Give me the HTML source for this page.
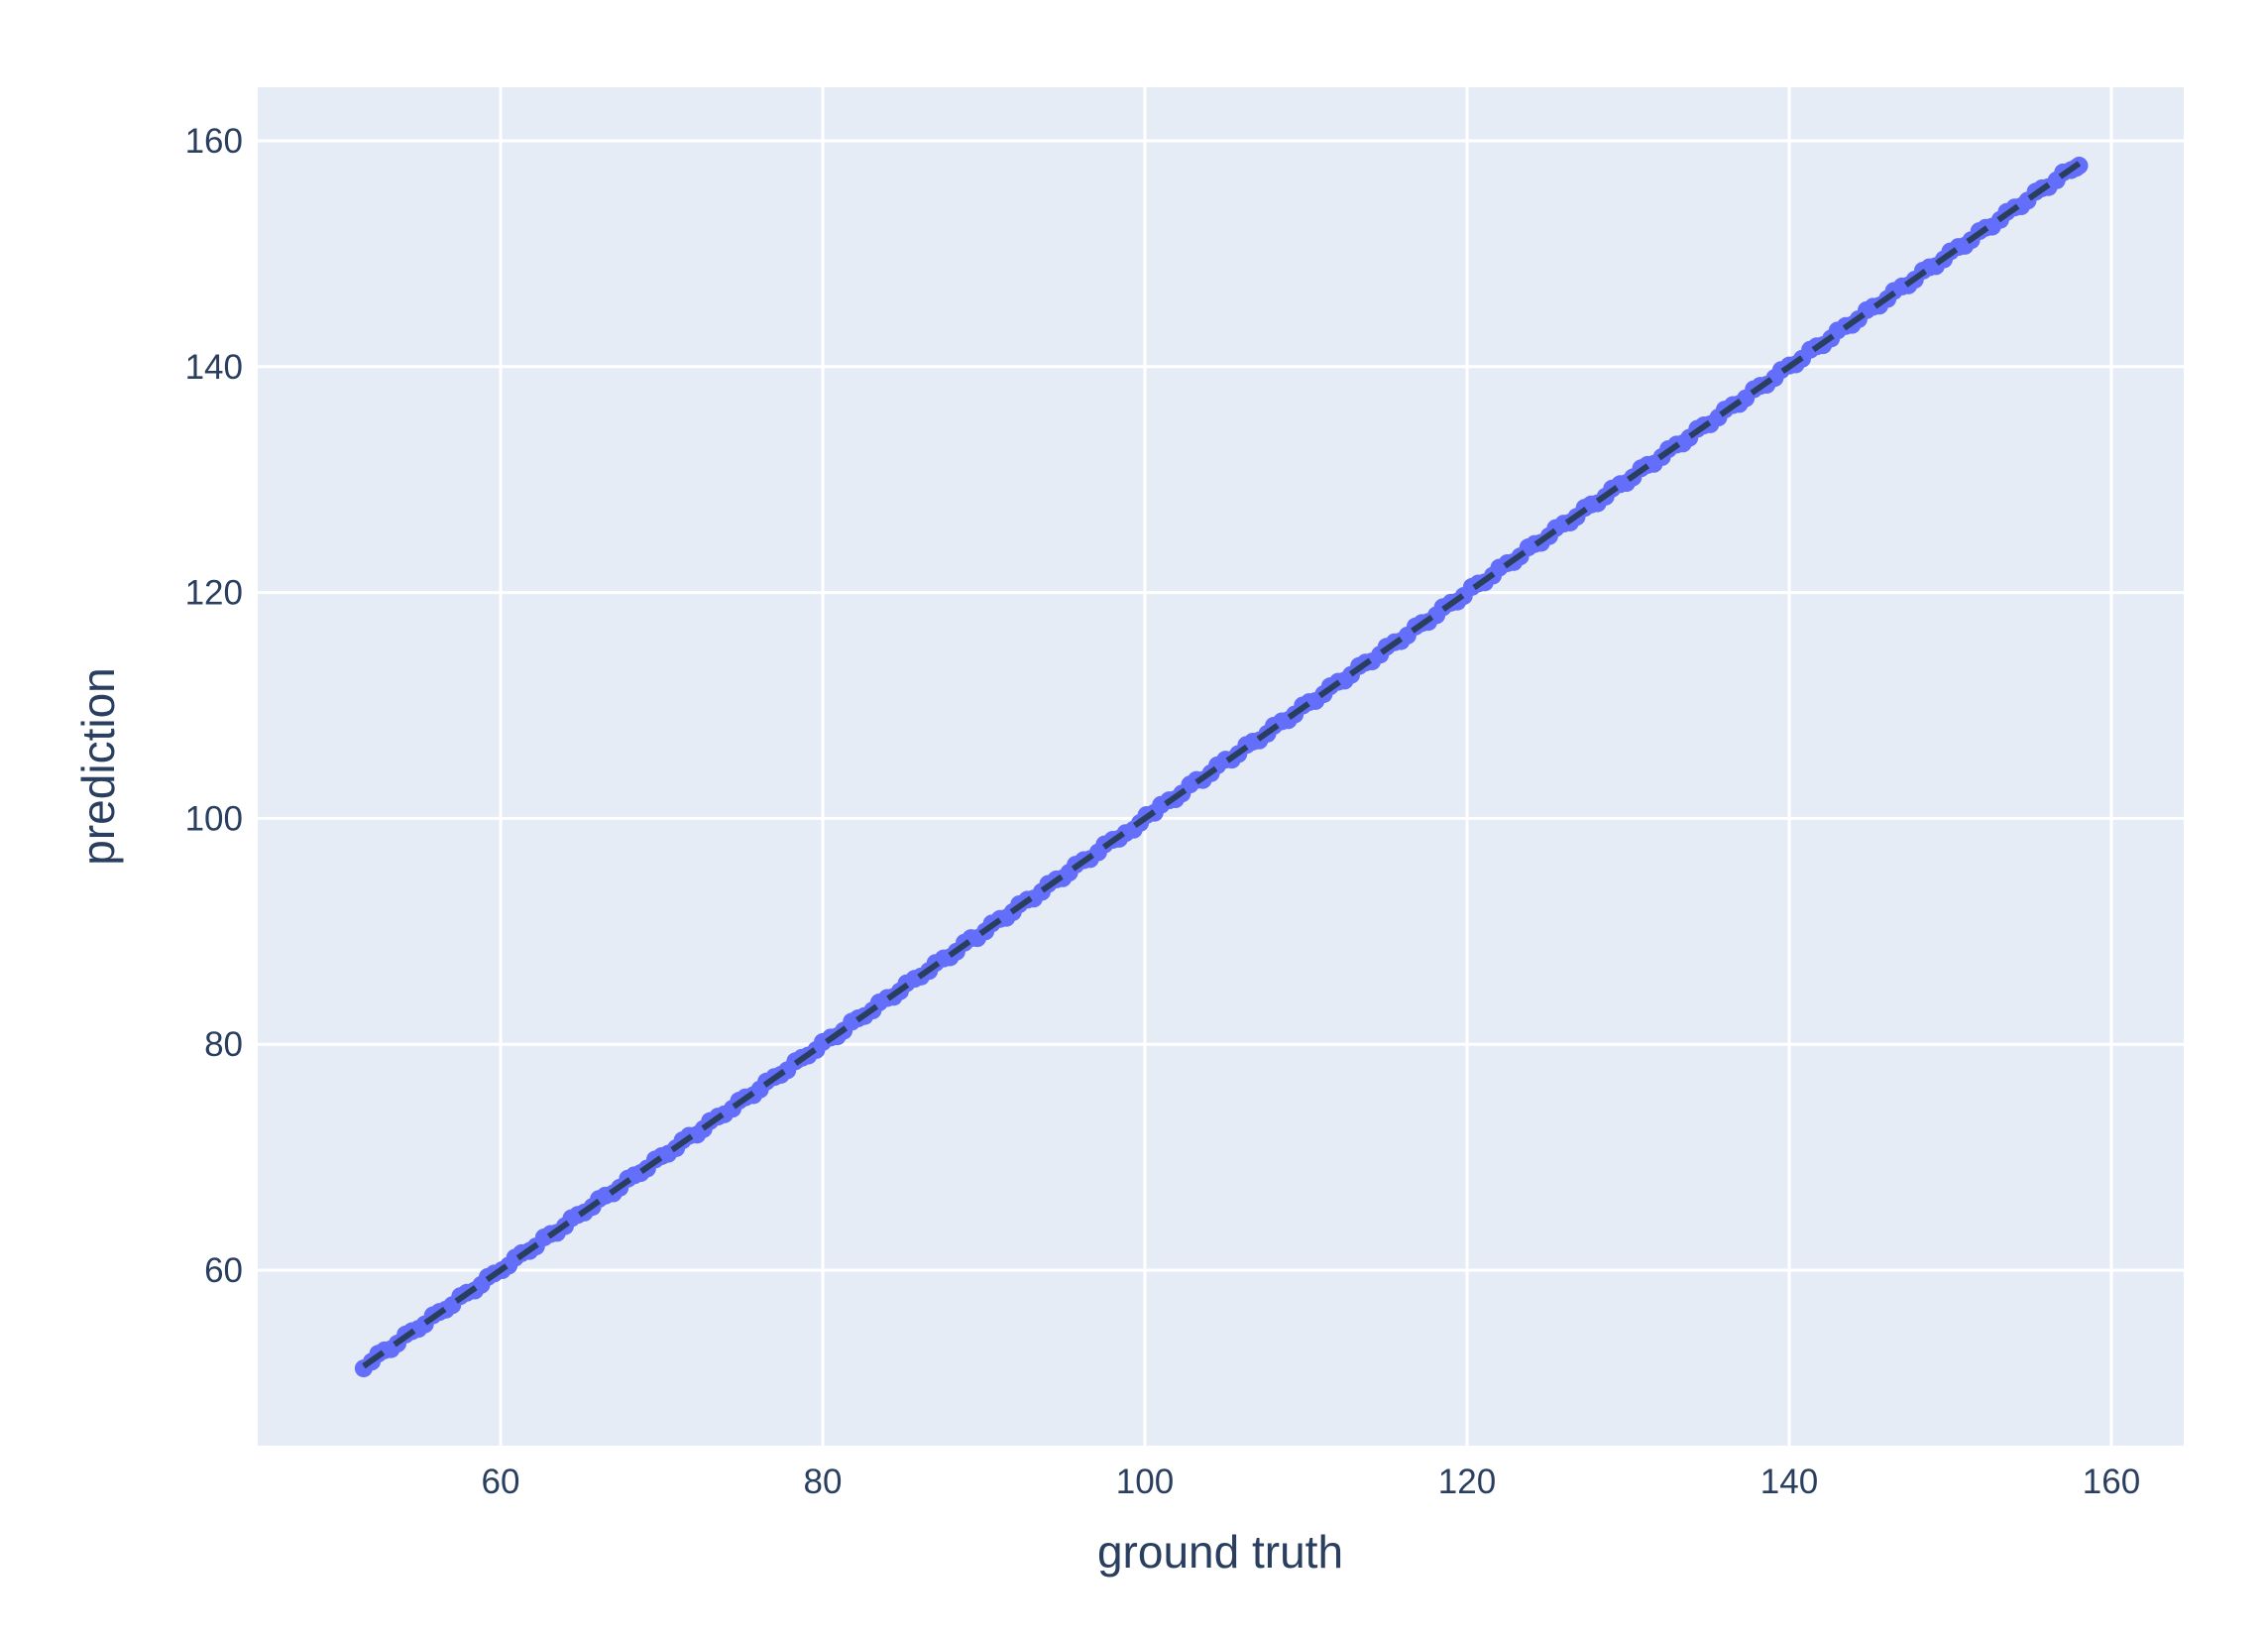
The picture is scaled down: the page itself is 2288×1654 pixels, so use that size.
<!DOCTYPE html>
<html><head><meta charset="utf-8"><style>
html,body{margin:0;padding:0;background:#fff;}
svg{display:block;font-family:"Liberation Sans",sans-serif;}
</style></head><body>
<svg id="chart" width="2288" height="1654">
<rect x="260" y="88" width="1943" height="1370" fill="#E5ECF6"/>
<g id="grid"></g>
<g id="pts"></g>
<g id="ref"></g>
<g id="ticks"></g>
<text x="1231" y="1581" font-size="46" fill="#2a3f5f" text-anchor="middle">ground truth</text>
<text transform="translate(115,773) rotate(-90)" font-size="46" fill="#2a3f5f" text-anchor="middle">prediction</text>
</svg>
<script>
const xTicks=[60,80,100,120,140,160];
const yTicks=[60,80,100,120,140,160];
const truth=[51.5,52.0,52.8,53.6,54.5,55.3,56.2,57.0,57.9,58.8,59.6,60.5,61.3,62.2,63.1,64.0,64.8,65.7,66.5,67.4,68.3,69.1,70.0,70.9,71.7,72.6,73.5,74.4,75.2,76.1,77.0,77.8,78.7,79.6,80.5,81.3,82.2,83.1,84.0,84.8,85.7,86.6,87.5,88.3,89.2,90.1,91.0,91.8,92.7,93.6,94.5,95.3,96.2,97.1,98.0,98.8,99.7,100.6,101.5,102.3,103.2,104.1,105.0,105.8,106.7,107.6,108.5,109.3,110.2,111.1,112.0,112.8,113.7,114.6,115.5,116.3,117.2,118.1,119.0,119.8,120.7,121.6,122.5,123.3,124.2,125.1,126.0,126.8,127.7,128.6,129.5,130.3,131.2,132.1,133.0,133.8,134.7,135.6,136.5,137.3,138.2,139.1,140.0,140.8,141.7,142.6,143.5,144.3,145.2,146.1,147.0,147.8,148.7,149.6,150.5,151.3,152.2,153.1,154.0,154.8,155.7,156.6,157.5,158.0];
const pred=[51.3,51.9,52.9,53.5,54.6,55.2,56.3,56.9,58.0,58.7,59.7,60.4,61.5,62.1,63.2,63.9,64.9,65.6,66.6,67.3,68.4,69.0,70.1,70.8,71.9,72.5,73.6,74.3,75.3,76.0,77.1,77.7,78.8,79.5,80.6,81.2,82.3,83.0,84.1,84.7,85.8,86.5,87.6,88.2,89.4,90.0,91.1,91.7,92.8,93.5,94.6,95.2,96.3,97.0,98.1,98.7,99.6,100.5,101.6,102.2,103.4,104.0,105.2,105.7,106.8,107.5,108.6,109.2,110.3,111.0,112.1,112.7,113.8,114.5,115.6,116.2,117.3,118.0,119.1,119.7,120.8,121.5,122.6,123.2,124.3,125.0,126.1,126.7,127.8,128.5,129.6,130.2,131.3,132.0,133.1,133.7,134.8,135.5,136.6,137.2,138.3,139.0,140.1,140.7,141.8,142.5,143.6,144.2,145.3,146.0,147.1,147.7,148.8,149.5,150.6,151.2,152.3,153.0,154.1,154.7,155.8,156.5,157.4,157.8];
const truthB=[52.4,53.2,54.1,54.9,55.8,56.6,57.5,58.4,59.2,60.1,60.9,61.8,62.7,63.5,64.4,65.2,66.1,67.0,67.9,68.7,69.6,70.4,71.3,72.2,73.0,73.9,74.8,75.7,76.5,77.4,78.3,79.1,80.0,80.9,81.8,82.6,83.5,84.4,85.2,86.1,87.0,87.9,88.8,89.6,90.5,91.4,92.2,93.1,94.0,94.9,95.7,96.6,97.5,98.4,99.3,100.1,101.0,101.9,102.8,103.6,104.5,105.4,106.3,107.1,108.0,108.9,109.8,110.6,111.5,112.4,113.3,114.1,115.0,115.9,116.8,117.6,118.5,119.4,120.3,121.1,122.0,122.9,123.8,124.6,125.5,126.4,127.3,128.1,129.0,129.9,130.8,131.6,132.5,133.4,134.3,135.1,136.0,136.9,137.8,138.6,139.5,140.4,141.3,142.1,143.0,143.9,144.8,145.6,146.5,147.4,148.3,149.1,150.0,150.9,151.8,152.6,153.5,154.4,155.3,156.1,157.0,157.8];
const predB=[52.6,53.0,54.3,54.8,56.0,56.5,57.7,58.2,59.4,60.0,61.1,61.7,62.9,63.3,64.6,65.1,66.3,66.8,68.1,68.6,69.8,70.3,71.5,72.0,73.2,73.8,75.0,75.5,76.7,77.3,78.5,79.0,80.2,80.7,82.0,82.5,83.7,84.2,85.4,86.0,87.2,87.7,89.0,89.4,90.7,91.2,92.4,92.9,94.2,94.7,95.9,96.4,97.7,98.2,99.0,100.3,101.2,101.7,103.0,103.4,104.7,105.2,106.5,106.9,108.2,108.7,110.0,110.4,111.7,112.2,113.5,113.9,115.2,115.7,117.0,117.4,118.7,119.2,120.5,120.9,122.2,122.7,124.0,124.4,125.7,126.2,127.5,127.9,129.2,129.7,131.0,131.4,132.7,133.2,134.5,134.9,136.2,136.7,138.0,138.4,139.7,140.2,141.5,141.9,143.2,143.7,145.0,145.4,146.7,147.2,148.5,148.9,150.2,150.7,152.0,152.4,153.7,154.2,155.5,155.9,157.2,157.6];
const refLine=[51.5,158];
const NS="http://www.w3.org/2000/svg";
function xs(v){return 505+(v-60)*16.25;}
function ys(v){return 1281-(v-60)*11.39;}
function mk(t,a,p){const e=document.createElementNS(NS,t);for(const k in a)e.setAttribute(k,a[k]);p.appendChild(e);return e;}
const grid=document.getElementById('grid'),ticks=document.getElementById('ticks'),pts=document.getElementById('pts'),ref=document.getElementById('ref');
xTicks.forEach(v=>{
 const l=mk('line',{x1:xs(v),x2:xs(v),y1:88,y2:1458,stroke:'#fff','stroke-width':3},grid);
 
 
 const t=mk('text',{x:xs(v),y:1506,'font-size':35,fill:'#2a3f5f','text-anchor':'middle'},ticks);
 t.textContent=v;
 
 
});
yTicks.forEach(v=>{
 const l=mk('line',{x1:260,x2:2203,y1:ys(v),y2:ys(v),stroke:'#fff','stroke-width':3},grid);
 
 
 const t=mk('text',{x:245,y:ys(v)+12,'font-size':35,fill:'#2a3f5f','text-anchor':'end'},ticks);
 t.textContent=v;
 
 
});
truth.forEach((v,i)=>{
 const c=mk('circle',{cx:xs(v),cy:ys(pred[i]),r:9,fill:'#636efa'},pts);
 
 
});
truthB.forEach((v,i)=>{
 const c=mk('circle',{cx:xs(v),cy:ys(predB[i]),r:9,fill:'#636efa'},pts);
 
 
});
const rl=mk('line',{x1:xs(refLine[0]),y1:ys(refLine[0]),x2:xs(refLine[1]),y2:ys(refLine[1]),stroke:'#2a3f5f','stroke-width':6,'stroke-dasharray':'24,14'},ref);


</script>
</body></html>
